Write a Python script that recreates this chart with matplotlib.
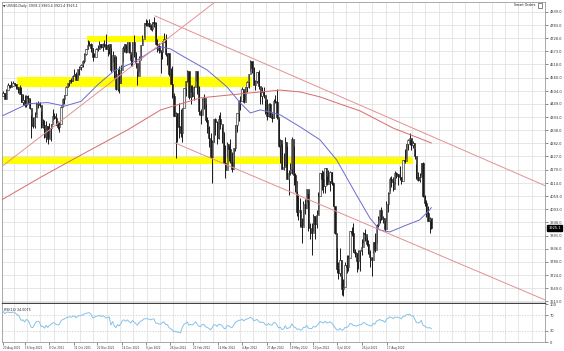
import numpy as np
import pandas as pd
import matplotlib
matplotlib.use("Agg")
import matplotlib.pyplot as plt
from matplotlib.transforms import blended_transform_factory

# ---------------- data (US500 daily, 25 Aug 2021 .. 2 Sep 2022) ----------------
first_open = 4484.0
close = [
    # Aug 2021
    4496, 4470, 4509, 4529, 4523,
    # Sep 2021
    4524, 4537, 4535, 4520, 4514, 4493, 4458, 4468, 4443, 4481, 4473, 4432, 4358, 4354, 4395, 4449, 4455, 4443, 4352, 4359, 4308,
    # Oct 2021
    4357, 4300, 4346, 4363, 4399, 4391, 4361, 4350, 4364, 4438, 4471, 4486, 4520, 4537, 4549, 4545, 4567, 4575, 4551, 4597, 4605,
    # Nov 2021
    4613, 4631, 4660, 4680, 4697, 4702, 4686, 4647, 4650, 4683, 4683, 4701, 4689, 4705, 4698, 4683, 4691, 4701, 4595, 4655, 4567,
    # Dec 2021
    4513, 4577, 4538, 4592, 4687, 4701, 4668, 4712, 4669, 4635, 4710, 4669, 4621, 4568, 4649, 4697, 4726, 4791, 4786, 4793, 4778, 4766,
    # Jan 2022
    4797, 4794, 4701, 4696, 4677, 4670, 4713, 4726, 4660, 4663, 4577, 4533, 4483, 4398, 4410, 4357, 4350, 4326, 4432, 4516,
    # Feb 2022
    4546, 4589, 4478, 4501, 4484, 4522, 4587, 4504, 4419, 4402, 4472, 4475, 4380, 4349, 4305, 4226, 4288, 4385, 4374,
    # Mar 2022
    4306, 4387, 4363, 4329, 4201, 4171, 4278, 4260, 4204, 4173, 4262, 4358, 4412, 4463, 4461, 4512, 4456, 4520, 4543, 4575, 4632, 4602, 4530,
    # Apr 2022
    4546, 4583, 4526, 4481, 4500, 4488, 4413, 4397, 4447, 4393, 4391, 4463, 4459, 4394, 4272, 4297, 4175, 4183, 4288, 4132,
    # May 2022
    4155, 4175, 4300, 4147, 4123, 3991, 4001, 3935, 3930, 4024, 4008, 4088, 3923, 3901, 3901, 3974, 3941, 3979, 4058, 4158, 4132,
    # Jun 2022
    4101, 4176, 4109, 4121, 4161, 4116, 4018, 3901, 3750, 3735, 3790, 3667, 3675, 3765, 3760, 3796, 3912, 3901, 3822, 3819, 3785,
    # Jul 2022
    3825, 3831, 3845, 3903, 3899, 3855, 3819, 3802, 3790, 3863, 3831, 3937, 3960, 3999, 3962, 3967, 3921, 4024, 4073, 4130,
    # Aug 2022
    4119, 4091, 4155, 4152, 4145, 4140, 4122, 4210, 4208, 4280, 4297, 4305, 4274, 4284, 4228, 4138, 4128, 4141, 4199, 4058, 4031, 3986, 3955,
    # Sep 2022
    3966, 3925.1,
]
high = [
    4502, 4496, 4513, 4537, 4531,
    4546, 4545, 4540, 4535, 4522, 4529, 4520, 4492, 4485, 4486, 4485, 4471, 4402, 4394, 4416, 4457, 4463, 4457, 4419, 4385, 4383,
    4375, 4355, 4370, 4365, 4429, 4412, 4410, 4375, 4372, 4439, 4475, 4487, 4527, 4539, 4550, 4560, 4573, 4598, 4584, 4598, 4608,
    4620, 4635, 4664, 4683, 4718, 4714, 4708, 4685, 4663, 4688, 4697, 4714, 4703, 4708, 4718, 4744, 4701, 4702, 4686, 4672, 4647,
    4652, 4596, 4608, 4613, 4696, 4705, 4698, 4713, 4711, 4660, 4712, 4743, 4666, 4590, 4651, 4697, 4741, 4791, 4808, 4804, 4808, 4787,
    4797, 4818, 4797, 4725, 4707, 4672, 4714, 4749, 4745, 4666, 4632, 4602, 4611, 4495, 4417, 4411, 4454, 4428, 4432, 4517,
    4546, 4595, 4542, 4530, 4528, 4524, 4590, 4589, 4527, 4427, 4473, 4490, 4448, 4394, 4356, 4325, 4295, 4385, 4388,
    4375, 4401, 4417, 4353, 4327, 4277, 4287, 4269, 4299, 4247, 4263, 4358, 4412, 4465, 4481, 4522, 4501, 4520, 4546, 4575, 4637, 4627, 4604,
    4549, 4583, 4593, 4503, 4521, 4521, 4464, 4471, 4453, 4453, 4411, 4471, 4488, 4512, 4386, 4299, 4279, 4240, 4308, 4269,
    4169, 4200, 4308, 4270, 4158, 4081, 4068, 4050, 3964, 4039, 4047, 4090, 4071, 3946, 3944, 3981, 3955, 3999, 4076, 4158, 4169,
    4167, 4177, 4143, 4168, 4164, 4160, 4119, 3975, 3838, 3778, 3837, 3720, 3707, 3780, 3809, 3808, 3913, 3927, 3945, 3836, 3818,
    3829, 3832, 3875, 3906, 3919, 3886, 3874, 3829, 3796, 3864, 3903, 3940, 3975, 3999, 4012, 3975, 3953, 4039, 4078, 4140,
    4144, 4140, 4167, 4161, 4152, 4187, 4138, 4211, 4257, 4281, 4301, 4325, 4302, 4292, 4259, 4196, 4159, 4156, 4200, 4204, 4063, 4044, 4016,
    3970, 3960.4,
]
low = [
    4482, 4469, 4472, 4513, 4515,
    4521, 4524, 4525, 4513, 4494, 4492, 4457, 4446, 4436, 4438, 4447, 4427, 4305, 4347, 4346, 4406, 4430, 4436, 4346, 4346, 4307,
    4288, 4278, 4304, 4292, 4380, 4386, 4360, 4342, 4330, 4394, 4447, 4447, 4496, 4521, 4525, 4536, 4548, 4569, 4551, 4560, 4573,
    4595, 4604, 4621, 4655, 4681, 4694, 4671, 4630, 4649, 4651, 4673, 4680, 4686, 4672, 4692, 4682, 4652, 4659, 4586, 4626, 4560,
    4510, 4505, 4496, 4540, 4626, 4671, 4667, 4671, 4667, 4608, 4611, 4650, 4600, 4531, 4583, 4636, 4700, 4733, 4780, 4778, 4776, 4764,
    4758, 4774, 4700, 4671, 4663, 4582, 4638, 4710, 4653, 4614, 4568, 4532, 4475, 4396, 4222, 4288, 4305, 4310, 4288, 4435,
    4483, 4544, 4470, 4451, 4477, 4467, 4548, 4490, 4402, 4365, 4428, 4429, 4374, 4328, 4267, 4222, 4114, 4286, 4317,
    4279, 4299, 4345, 4285, 4199, 4137, 4223, 4206, 4200, 4162, 4187, 4251, 4330, 4376, 4424, 4465, 4452, 4465, 4501, 4517, 4589, 4581, 4530,
    4507, 4539, 4514, 4451, 4450, 4476, 4408, 4381, 4392, 4392, 4371, 4390, 4452, 4385, 4267, 4201, 4175, 4170, 4188, 4131,
    4063, 4147, 4152, 4106, 4077, 3975, 3959, 3928, 3859, 3937, 3983, 4033, 3912, 3876, 3810, 3909, 3875, 3925, 3984, 4077, 4083,
    4074, 4074, 4107, 4110, 4080, 4107, 4017, 3900, 3735, 3706, 3722, 3640, 3636, 3715, 3733, 3743, 3822, 3889, 3820, 3799, 3738,
    3752, 3742, 3810, 3860, 3868, 3847, 3814, 3759, 3722, 3817, 3824, 3861, 3930, 3946, 3956, 3946, 3910, 3948, 3992, 4079,
    4097, 4079, 4108, 4135, 4107, 4128, 4112, 4161, 4201, 4220, 4256, 4277, 4253, 4263, 4218, 4131, 4124, 4120, 4147, 4057, 4017, 3971, 3954,
    3903, 3921.4,
]
rsi_warmup = [4402, 4429, 4437, 4432, 4436, 4447, 4460, 4468, 4479, 4448, 4400, 4405, 4442, 4479, 4486]

# moving averages (bar index, price)
ma50_bar = [0, 15, 27, 37, 47, 57, 67, 77, 83, 91, 95, 101, 107, 115, 123, 135, 143, 149, 155, 161, 167, 179, 191, 201, 213, 221, 227, 233, 243, 251, 257, 258]
ma50_val = [4400, 4450, 4455, 4440, 4460, 4530, 4590, 4620, 4644, 4680, 4691, 4682, 4657, 4625, 4593, 4521, 4453, 4411, 4424, 4415, 4403, 4352, 4297, 4212, 4063, 3966, 3915, 3907, 3936, 3958, 4000, 4010]
ma200_bar = [-1, 22, 46, 75, 95, 119, 149, 167, 179, 191, 203, 215, 235, 258]
ma200_val = [4042, 4136, 4229, 4339, 4424, 4475, 4496, 4508, 4500, 4479, 4449, 4420, 4347, 4284]

# trend lines (bar, price) endpoints
line_up = [(-1.8, 4178), (127.7, 4881)]
line_top = [(91.6, 4822), (326.5, 4103)]
line_bot = [(103.6, 4284), (326.5, 3619)]

# yellow zones: (bar start, bar end, price low, price high)
zones = [(50.6, 98.8, 4712, 4737), (8.4, 150.0, 4521, 4564), (-1.8, 247.0, 4195, 4225)]

price_ticks = [4839.0, 4783.0, 4728.0, 4673.0, 4618.0, 4560.0, 4504.0, 4449.0, 4393.0, 4338.0, 4282.0,
               4227.0, 4170.0, 4114.0, 4059.0, 4003.0, 3948.0, 3891.0, 3836.0, 3780.0, 3724.0, 3669.0, 3613.0]
date_pos = [0, 13.3, 27.7, 42.8, 56.6, 71.7, 86.1, 100.6, 114.5, 129.5, 144.0, 159.0, 172.9, 186.7, 201.2, 216.3, 231.3]
date_text = ["20 Aug 2021", "16 Sep 2021", "8 Oct 2021", "31 Oct 2021", "22 Nov 2021", "14 Dec 2021",
             "6 Jan 2022", "28 Jan 2022", "21 Feb 2022", "14 Mar 2022", "4 Apr 2022", "27 Apr 2022",
             "19 May 2022", "10 Jun 2022", "4 Jul 2022", "26 Jul 2022", "17 Aug 2022"]
rsi_ticks = [0, 30, 70, 100]
rsi_label = "RSI(14) 34.0075"
header = "\u25BC US500,Daily  3939.1 3960.4 3921.4 3925.1"

# ---------------- figure ----------------
W, H = 564, 351
fig = plt.figure(figsize=(W / 100, H / 100), dpi=100)
fig.patch.set_facecolor("white")
FS_AX = 2.6
FS_DATE = 2.0
FS_TXT = 2.3


def fr(x0, y0, x1, y1):
    return [x0 / W, 1 - y1 / H, (x1 - x0) / W, (y1 - y0) / H]


ax = fig.add_axes(fr(2, 2, 545, 303))
rx = fig.add_axes(fr(2, 304, 545, 342))

XMIN, XMAX = -0.6, 326.5
ax.set_xlim(XMIN, XMAX)
rx.set_xlim(XMIN, XMAX)
ax.set_ylim(3606, 4881)
rx.set_ylim(0, 100)

gridc = "#dcdcdc"
for a in (ax, rx):
    for gx in np.arange(6.5, XMAX, 8):
        a.axvline(gx, color=gridc, lw=0.5, zorder=0)
for p in price_ticks:
    ax.axhline(p, color=gridc, lw=0.5, zorder=0)

# zones
for b0, b1, p0, p1 in zones:
    ax.fill_between([b0, b1], p0, p1, color="#ffff00", lw=0, zorder=1)

# candles
c = np.array(close, dtype=float)
o = np.concatenate([[first_open], c[:-1]])
hi = np.array(high, dtype=float)
lo = np.array(low, dtype=float)
idx = np.arange(len(c))
ax.vlines(idx, lo, hi, color="#1a1a1a", lw=0.7, zorder=3)
fc = np.where(c >= o, "#f4f4f4", "#1a1a1a")
body = np.maximum(np.abs(c - o), 1.5)
ax.bar(idx, body, bottom=np.minimum(o, c), width=0.72, color=fc, edgecolor="#1a1a1a", lw=0.4, zorder=4)

# moving averages
ax.plot(ma50_bar, ma50_val, color="#6b6bd0", lw=0.7, zorder=5)
ax.plot(ma200_bar, ma200_val, color="#d86a6a", lw=0.7, zorder=5)

# trend lines
for ln in (line_up, line_top, line_bot):
    ax.plot([ln[0][0], ln[1][0]], [ln[0][1], ln[1][1]], color="#e59090", lw=0.7, zorder=5)

# axes styling
ax.yaxis.tick_right()
ax.set_yticks(price_ticks)
ax.set_yticklabels([f"{p:.1f}" for p in price_ticks])
ax.tick_params(axis="y", labelsize=FS_AX, length=2, pad=1.2, width=0.4, colors="#333333")
ax.set_xticks([])
for s in ax.spines.values():
    s.set_color("#9a9a9a")
    s.set_linewidth(0.6)
ax.spines["bottom"].set_color("#444444")
ax.spines["bottom"].set_linewidth(1.0)

# current price box
tr = blended_transform_factory(ax.transAxes, ax.transData)
ax.text(1.006, close[-1], f"{close[-1]:.1f}", transform=tr, color="white", fontsize=FS_AX,
        va="center", ha="left", zorder=10,
        bbox=dict(boxstyle="square,pad=0.25", fc="black", ec="black"))

# RSI
allc = pd.Series(rsi_warmup + list(close), dtype=float)
d = allc.diff()
up = d.clip(lower=0).ewm(alpha=1 / 14, adjust=False).mean()
dn = (-d.clip(upper=0)).ewm(alpha=1 / 14, adjust=False).mean()
rsi = (100 - 100 / (1 + up / dn)).values[len(rsi_warmup):]
for lv in (30, 70):
    rx.axhline(lv, color="#c8c8c8", lw=0.5, ls=(0, (2, 2)), zorder=1)
rx.plot(idx, rsi, color="#86c2ea", lw=0.7, zorder=3)
rx.yaxis.tick_right()
rx.set_yticks(rsi_ticks)
rx.set_yticklabels([str(t) for t in rsi_ticks])
rx.tick_params(axis="y", labelsize=FS_AX, length=2, pad=1.2, width=0.4, colors="#333333")
rx.set_xticks(date_pos)
rx.set_xticklabels(date_text, ha="left")
rx.tick_params(axis="x", labelsize=FS_DATE, length=2, pad=1.0, width=0.4, colors="#333333")
for s in rx.spines.values():
    s.set_color("#9a9a9a")
    s.set_linewidth(0.6)
rx.spines["top"].set_visible(False)
rx.text(0.004, 0.9, rsi_label, transform=rx.transAxes, fontsize=FS_TXT, va="top", ha="left", color="#222222")

# header texts
fig.text(3 / W, 1 - 5.5 / H, header, fontsize=FS_TXT, va="center", ha="left", color="#222222")
fig.text(536 / W, 1 - 5.5 / H, "Smart Orders", fontsize=FS_TXT, va="center", ha="right", color="#222222")
fig.patches.append(plt.Rectangle((537.5 / W, 1 - 7.5 / H), 4 / W, 4 / H, transform=fig.transFigure,
                                 fill=False, ec="#555555", lw=0.5))

fig.savefig("out.png", dpi=100, facecolor="white")
